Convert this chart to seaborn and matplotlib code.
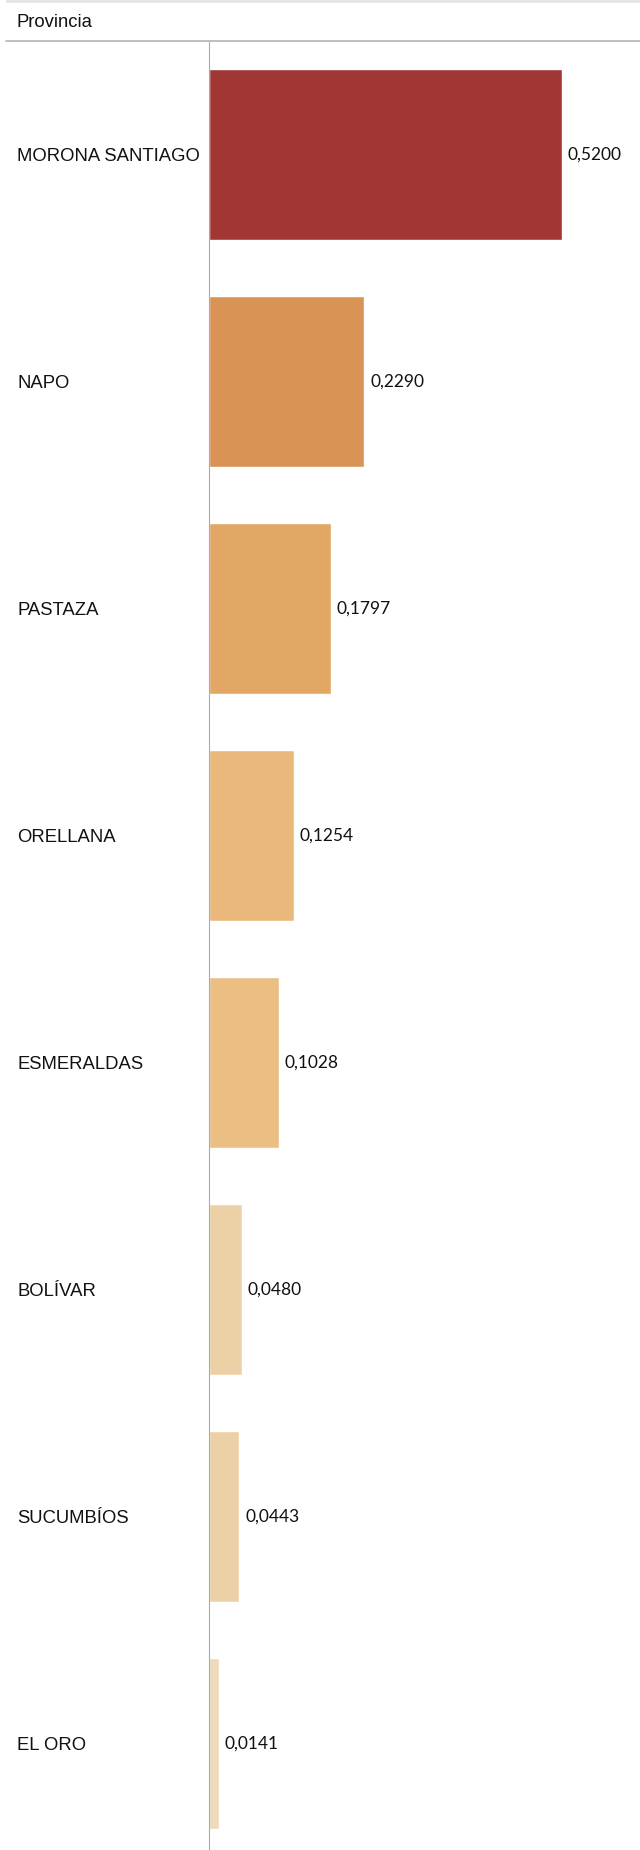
import matplotlib
matplotlib.use("Agg")
import matplotlib.pyplot as plt
from matplotlib.lines import Line2D
from matplotlib.patches import Rectangle
import seaborn as sns
import pandas as pd

provincias = ["MORONA SANTIAGO", "NAPO", "PASTAZA", "ORELLANA", "ESMERALDAS",
              "BOLÍVAR", "SUCUMBÍOS", "EL ORO"]
valores = [0.5200, 0.2290, 0.1797, 0.1254, 0.1028, 0.0480, 0.0443, 0.0141]
colores = ["#A03734", "#D99455", "#E3A765", "#EAB87A", "#EBBF84",
           "#EDD1A6", "#EDD1A6", "#EFDABA"]
titulo_columna = "Provincia"

sns.set_style("white")
plt.rcParams["font.family"] = ["Liberation Sans", "DejaVu Sans"]

df = pd.DataFrame({"Provincia": provincias, "Valor": valores})

W, H = 640, 1850
fig = plt.figure(figsize=(W / 100, H / 100), dpi=100)
ax_left = 209.0 / W
ax_top = 41 / H
ax = fig.add_axes([ax_left, 0, 1 - ax_left, 1 - ax_top])

sns.barplot(data=df, y="Provincia", x="Valor", hue="Provincia",
            palette=colores, order=provincias, hue_order=provincias,
            orient="h", width=0.753, legend=False, saturation=1, ax=ax)

ax.set_xlim(0, (W - 209.0) / 678)
ax.set_ylim(7.469, -0.5)

for cont, v in zip(ax.containers, valores):
    ax.bar_label(cont, labels=[f"{v:.4f}".replace(".", ",")], padding=4.3,
                 fontsize=12.5, family=["Lato", "DejaVu Sans"], color="#111111")

ax.set_xlabel("")
ax.set_ylabel("")
ax.set_xticks([])
ax.tick_params(axis="y", length=0, pad=138.2, labelsize=13.3, labelcolor="#111111")
for lab in ax.get_yticklabels():
    lab.set_horizontalalignment("left")

for s in ["top", "right", "bottom"]:
    ax.spines[s].set_visible(False)
ax.spines["left"].set_color("#aaaaaa")
ax.spines["left"].set_linewidth(0.8)

# header
fig.add_artist(Rectangle((6 / W, 1 - 2.5 / H), 1 - 6 / W, 2.5 / H,
                         transform=fig.transFigure, color="#e6e6ea", lw=0))
fig.add_artist(Line2D([6 / W, 1], [1 - 40.5 / H] * 2, transform=fig.transFigure,
                      color="#b4b4b4", lw=1.2))
fig.text(17 / W, 1 - 22.7 / H, titulo_columna, ha="left", va="center",
         fontsize=13.3, color="#111111")

fig.savefig("out.png", dpi=100, facecolor="white")
